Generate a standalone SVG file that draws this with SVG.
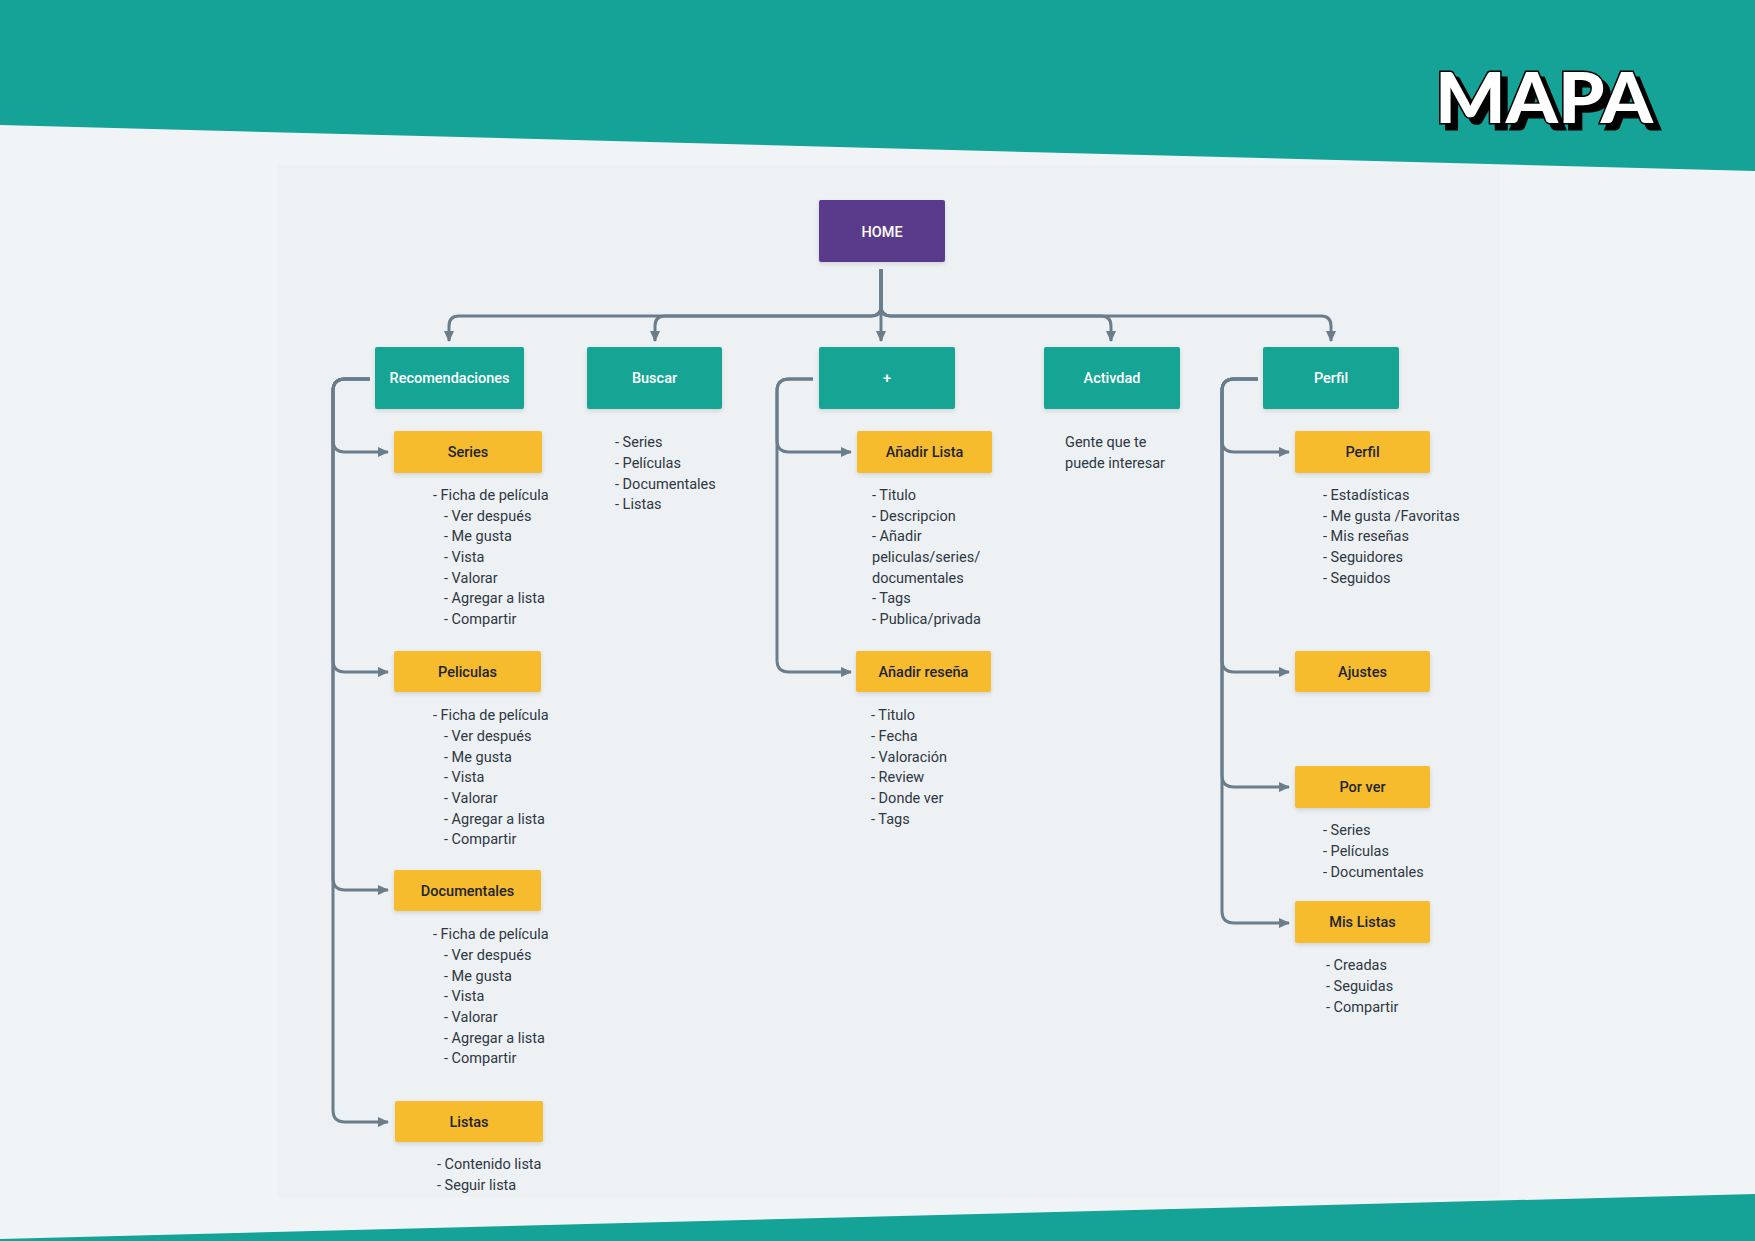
<svg xmlns="http://www.w3.org/2000/svg" width="1755" height="1241" viewBox="0 0 1755 1241">
<style>
.teal{fill:#17a594}
.yel{fill:#f6bc2f}
.lbl{font-family:Roboto,"Noto Sans",sans-serif;font-size:14.5px;font-weight:500;text-anchor:middle}
.w{fill:#ffffff}
.d{fill:#1f242b}
.li{font-family:Roboto,"Noto Sans",sans-serif;font-size:14.5px;fill:#2e3742}
.con{fill:none;stroke:#6b7c8b;stroke-width:3;stroke-linejoin:round}
</style>
<defs>
<marker id="arr" markerWidth="11" markerHeight="11" refX="10" refY="5.5" orient="auto" markerUnits="userSpaceOnUse">
<path d="M0,0.5 L11,5.5 L0,10.5 z" fill="#6b7c8b"/>
</marker>
<filter id="sh" x="-10%" y="-20%" width="120%" height="150%">
<feDropShadow dx="0" dy="2" stdDeviation="2" flood-color="#000" flood-opacity="0.12"/>
</filter>
<filter id="hard" x="-5%" y="-10%" width="115%" height="130%">
<feDropShadow dx="6" dy="6" stdDeviation="0" flood-color="#000" flood-opacity="1"/>
</filter>
</defs>
<rect width="1755" height="1241" fill="#f1f4f7"/>
<rect x="278" y="165" width="1222" height="1032" fill="#edf1f4"/>
<polygon points="0,0 1755,0 1755,171 0,125" fill="#14a396"/>
<polygon points="0,1239 1755,1194 1755,1241 0,1241" fill="#14a396"/>
<g id="title">
<text x="1435" y="123" font-family="Lato,Roboto,sans-serif" font-weight="900" font-size="71" textLength="218" lengthAdjust="spacingAndGlyphs" fill="#fff" stroke="#000" stroke-width="3" paint-order="stroke" filter="url(#hard)">MAPA</text>
</g>
<g id="connectors">
<path class="con" marker-end="url(#arr)" d="M881,269 V306 Q881,316 871,316 H459 Q449,316 449,326 V341"/>
<path class="con" marker-end="url(#arr)" d="M881,269 V306 Q881,316 871,316 H665 Q655,316 655,326 V341"/>
<path class="con" marker-end="url(#arr)" d="M881,269 V341"/>
<path class="con" marker-end="url(#arr)" d="M881,269 V306 Q881,316 891,316 H1101 Q1111,316 1111,326 V341"/>
<path class="con" marker-end="url(#arr)" d="M881,269 V306 Q881,316 891,316 H1321 Q1331,316 1331,326 V341"/>
<path class="con" marker-end="url(#arr)" d="M370,379 H345 Q333,379 333,391 V440 Q333,452 345,452 H388"/>
<path class="con" marker-end="url(#arr)" d="M370,379 H345 Q333,379 333,391 V660 Q333,672 345,672 H388"/>
<path class="con" marker-end="url(#arr)" d="M370,379 H345 Q333,379 333,391 V878 Q333,890 345,890 H388"/>
<path class="con" marker-end="url(#arr)" d="M370,379 H345 Q333,379 333,391 V1110 Q333,1122 345,1122 H388"/>
<path class="con" marker-end="url(#arr)" d="M813,379 H789 Q777,379 777,391 V440 Q777,452 789,452 H851"/>
<path class="con" marker-end="url(#arr)" d="M813,379 H789 Q777,379 777,391 V660 Q777,672 789,672 H851"/>
<path class="con" marker-end="url(#arr)" d="M1258,379 H1234 Q1222,379 1222,391 V440 Q1222,452 1234,452 H1289"/>
<path class="con" marker-end="url(#arr)" d="M1258,379 H1234 Q1222,379 1222,391 V660 Q1222,672 1234,672 H1289"/>
<path class="con" marker-end="url(#arr)" d="M1258,379 H1234 Q1222,379 1222,391 V775 Q1222,787 1234,787 H1289"/>
<path class="con" marker-end="url(#arr)" d="M1258,379 H1234 Q1222,379 1222,391 V911 Q1222,923 1234,923 H1289"/>
</g>
<g id="home"><rect x="819" y="200" width="126" height="62" rx="2" fill="#5a3a8b" filter="url(#sh)"/><text class="lbl w" x="882" y="237">HOME</text></g>
<g id="recomendaciones"><rect x="375" y="347" width="149" height="62" rx="2" class="teal" filter="url(#sh)"/><text class="lbl w" x="449.5" y="383">Recomendaciones</text></g>
<g id="buscar"><rect x="587" y="347" width="135" height="62" rx="2" class="teal" filter="url(#sh)"/><text class="lbl w" x="654.5" y="383">Buscar</text>
<text class="li"><tspan x="615" y="447">- Series</tspan><tspan x="615" y="468">- Películas</tspan><tspan x="615" y="489">- Documentales</tspan><tspan x="615" y="509">- Listas</tspan></text></g>
<g id="plus"><rect x="819" y="347" width="136" height="62" rx="2" class="teal" filter="url(#sh)"/><text class="lbl w" x="887" y="383">+</text></g>
<g id="activdad"><rect x="1044" y="347" width="136" height="62" rx="2" class="teal" filter="url(#sh)"/><text class="lbl w" x="1112" y="383">Activdad</text>
<text class="li"><tspan x="1065" y="447">Gente que te</tspan><tspan x="1065" y="468">puede interesar</tspan></text></g>
<g id="perfil"><rect x="1263" y="347" width="136" height="62" rx="2" class="teal" filter="url(#sh)"/><text class="lbl w" x="1331" y="383">Perfil</text></g>
<g id="series"><rect x="394" y="431" width="148" height="42" rx="2" class="yel" filter="url(#sh)"/><text class="lbl d" x="468" y="457">Series</text>
<text class="li"><tspan x="433" y="500">- Ficha de película</tspan><tspan x="444" y="521">- Ver después</tspan><tspan x="444" y="541">- Me gusta</tspan><tspan x="444" y="562">- Vista</tspan><tspan x="444" y="583">- Valorar</tspan><tspan x="444" y="603">- Agregar a lista</tspan><tspan x="444" y="624">- Compartir</tspan></text></g>
<g id="peliculas"><rect x="394" y="651" width="147" height="41" rx="2" class="yel" filter="url(#sh)"/><text class="lbl d" x="467.5" y="677">Peliculas</text>
<text class="li"><tspan x="433" y="720">- Ficha de película</tspan><tspan x="444" y="741">- Ver después</tspan><tspan x="444" y="762">- Me gusta</tspan><tspan x="444" y="782">- Vista</tspan><tspan x="444" y="803">- Valorar</tspan><tspan x="444" y="824">- Agregar a lista</tspan><tspan x="444" y="844">- Compartir</tspan></text></g>
<g id="documentales"><rect x="394" y="870" width="147" height="41" rx="2" class="yel" filter="url(#sh)"/><text class="lbl d" x="467.5" y="896">Documentales</text>
<text class="li"><tspan x="433" y="939">- Ficha de película</tspan><tspan x="444" y="960">- Ver después</tspan><tspan x="444" y="981">- Me gusta</tspan><tspan x="444" y="1001">- Vista</tspan><tspan x="444" y="1022">- Valorar</tspan><tspan x="444" y="1043">- Agregar a lista</tspan><tspan x="444" y="1063">- Compartir</tspan></text></g>
<g id="listas"><rect x="395" y="1101" width="148" height="41" rx="2" class="yel" filter="url(#sh)"/><text class="lbl d" x="469" y="1127">Listas</text>
<text class="li"><tspan x="437" y="1169">- Contenido lista</tspan><tspan x="437" y="1190">- Seguir lista</tspan></text></g>
<g id="anadir-lista"><rect x="857" y="431" width="135" height="42" rx="2" class="yel" filter="url(#sh)"/><text class="lbl d" x="924.5" y="457">Añadir Lista</text>
<text class="li"><tspan x="872" y="500">- Titulo</tspan><tspan x="872" y="521">- Descripcion</tspan><tspan x="872" y="541">- Añadir</tspan><tspan x="872" y="562">peliculas/series/</tspan><tspan x="872" y="583">documentales</tspan><tspan x="872" y="603">- Tags</tspan><tspan x="872" y="624">- Publica/privada</tspan></text></g>
<g id="anadir-resena"><rect x="856" y="651" width="135" height="41" rx="2" class="yel" filter="url(#sh)"/><text class="lbl d" x="923.5" y="677">Añadir reseña</text>
<text class="li"><tspan x="871" y="720">- Titulo</tspan><tspan x="871" y="741">- Fecha</tspan><tspan x="871" y="762">- Valoración</tspan><tspan x="871" y="782">- Review</tspan><tspan x="871" y="803">- Donde ver</tspan><tspan x="871" y="824">- Tags</tspan></text></g>
<g id="perfil-sub"><rect x="1295" y="431" width="135" height="42" rx="2" class="yel" filter="url(#sh)"/><text class="lbl d" x="1362.5" y="457">Perfil</text>
<text class="li"><tspan x="1323" y="500">- Estadísticas</tspan><tspan x="1323" y="521">- Me gusta /Favoritas</tspan><tspan x="1323" y="541">- Mis reseñas</tspan><tspan x="1323" y="562">- Seguidores</tspan><tspan x="1323" y="583">- Seguidos</tspan></text></g>
<g id="ajustes"><rect x="1295" y="651" width="135" height="41" rx="2" class="yel" filter="url(#sh)"/><text class="lbl d" x="1362.5" y="677">Ajustes</text></g>
<g id="por-ver"><rect x="1295" y="766" width="135" height="42" rx="2" class="yel" filter="url(#sh)"/><text class="lbl d" x="1362.5" y="792">Por ver</text>
<text class="li"><tspan x="1323" y="835">- Series</tspan><tspan x="1323" y="856">- Películas</tspan><tspan x="1323" y="877">- Documentales</tspan></text></g>
<g id="mis-listas"><rect x="1295" y="901" width="135" height="42" rx="2" class="yel" filter="url(#sh)"/><text class="lbl d" x="1362.5" y="927">Mis Listas</text>
<text class="li"><tspan x="1326" y="970">- Creadas</tspan><tspan x="1326" y="991">- Seguidas</tspan><tspan x="1326" y="1012">- Compartir</tspan></text></g>
</svg>
